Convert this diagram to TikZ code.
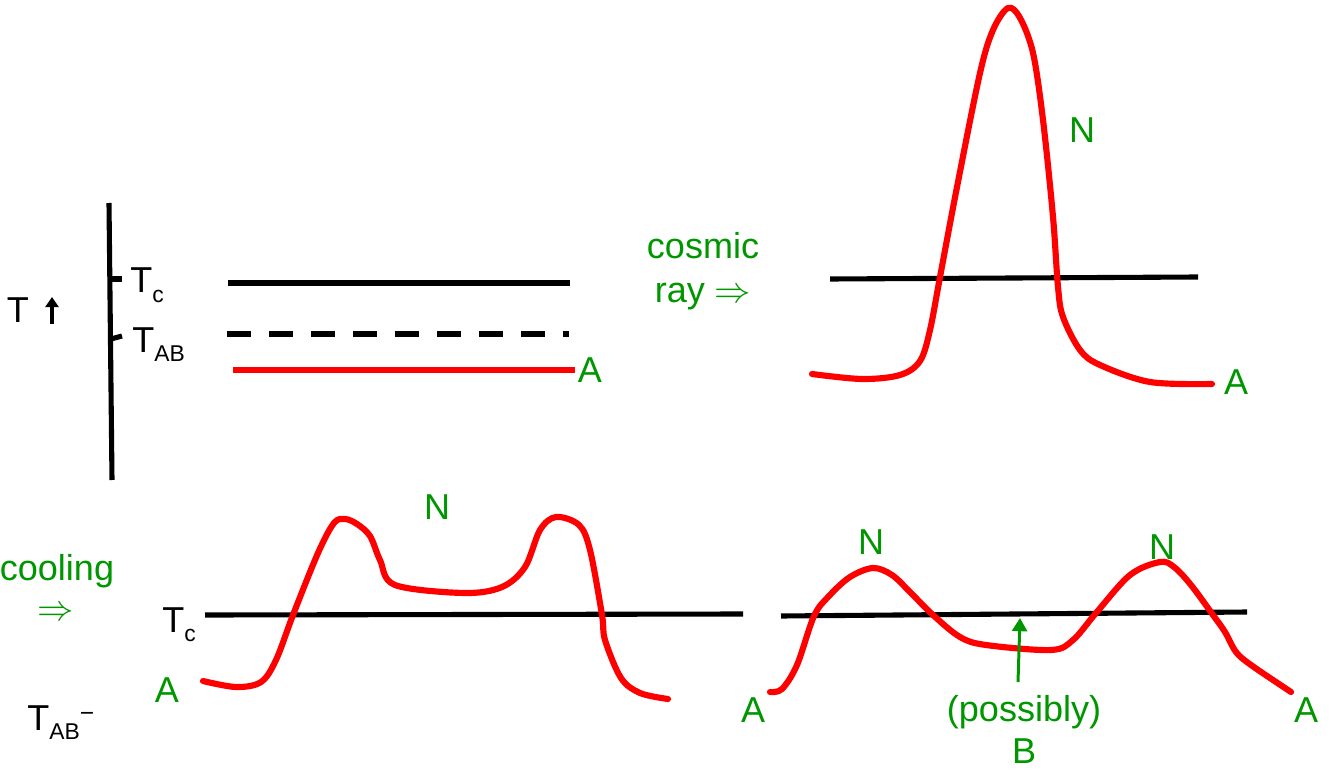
\documentclass[tikz,border=0pt]{standalone}
\usepackage{fontspec}
\setmainfont{Liberation Sans}
\usetikzlibrary{arrows.meta}
\definecolor{lgreen}{RGB}{0,150,0}
\newcommand\lowsub[1]{\raisebox{-5.5pt}{\fontsize{13}{13}\selectfont #1}}
\begin{document}
\begin{tikzpicture}[x=0.02cm,y=-0.02cm,
  blk/.style={line width=2.9pt, black},
  redc/.style={line width=3.5pt, red, line cap=round, line join=round},
  lbl/.style={font=\fontsize{20.5}{24}\selectfont, inner sep=0pt, text=black},
  glbl/.style={lbl, text=lgreen}]
\useasboundingbox (0,0) rectangle (1334,773);

% ---------- top left: temperature axis ----------
\coordinate (axtop) at (109,203);
\coordinate (axbot) at (112,480);
\draw[blk] (axtop) -- (axbot);
\coordinate (tc1) at (110,279); \coordinate (tc2) at (122,279);
\draw[blk] (tc1) -- (tc2);
\coordinate (tab1) at (111,339); \coordinate (tab2) at (122,336);
\draw[blk] (tab1) -- (tab2);

\node[lbl] (T) at (18,310) {T};
\coordinate (up1) at (52,324); \coordinate (up2) at (52,297);
\draw[line width=2.2pt, -{Triangle[length=5.8pt,width=7.5pt]}] (up1) -- (up2);

\node[lbl, anchor=base west] (Tc) at (130,293) {T\lowsub{c}};
\node[lbl, anchor=base west] (Tab) at (132,352) {T\lowsub{AB}};

\coordinate (l1a) at (228,283); \coordinate (l1b) at (570,283);
\draw[blk] (l1a) -- (l1b);
\coordinate (l2a) at (227,334); \coordinate (l2b) at (569,334);
\draw[blk, dash pattern=on 0.48cm off 0.36cm] (l2a) -- (l2b);
\coordinate (l3a) at (233,370); \coordinate (l3b) at (575,370);
\draw[red, line width=2.9pt] (l3a) -- (l3b);
\node[glbl] (A1) at (590,370) {A};

% ---------- cosmic ray ----------
\node[glbl, anchor=base] (cr1) at (703,259) {cosmic};
\node[glbl, anchor=base] (cr2) at (703,302) {ray $\Rightarrow$};

% ---------- top right ----------
\coordinate (tr1) at (830,279); \coordinate (tr2) at (1198,277);
\draw[blk] (tr1) -- (tr2);
\draw[redc] plot[smooth, tension=0.55] coordinates {
  (812,374) (862,379) (900,375) (920,361) (930,330) (940,277) (957,187)
  (980,73) (993,30) (1008,8) (1020,18) (1033,53) (1043,120) (1053,217)
  (1058,287) (1063,317) (1080,350) (1100,365) (1150,382) (1212,384)};
\node[glbl] (N1) at (1082,130) {N};
\node[glbl] (A2) at (1236,382) {A};

% ---------- bottom left ----------
\node[glbl, anchor=base] (cool) at (57,580) {cooling};
\node[glbl] (arr) at (56,614) {$\Rightarrow$};
\node[lbl, anchor=base west] (Tc2) at (162,632) {T\lowsub{c}};
\node[lbl, anchor=base west] (Tab2) at (27,730) {T\lowsub{AB}\raisebox{5pt}{\fontsize{14}{14}\selectfont −}};

\coordinate (bl1) at (205,615); \coordinate (bl2) at (743,614);
\draw[blk] (bl1) -- (bl2);
\draw[redc] plot[smooth, tension=0.55] coordinates {
  (203,681) (236,687) (261,682) (276,660) (293,615) (318,553) (334,523)
  (345,519) (357,524) (370,536) (380,560) (395,585) (464,593) (502,587)
  (525,567) (540,530) (556,517) (579,525) (590,550) (602,615) (605,640)
  (621,678) (640,693) (668,699)};
\node[glbl] (A3) at (167,690) {A};
\node[glbl] (N2) at (437,507) {N};

% ---------- bottom right ----------
\coordinate (br1) at (781,616); \coordinate (br2) at (1247,612);
\draw[blk] (br1) -- (br2);
\draw[redc] plot[smooth, tension=0.55] coordinates {
  (770,692) (782,689) (797,665) (814,616) (829,596) (850,577) (873,568)
  (892,575) (910,592) (933,615) (960,637) (986,645) (1051,650) (1073,640)
  (1096,613) (1130,575) (1160,562) (1174,567) (1191,585) (1213,615)
  (1225,632) (1236,652) (1251,665) (1291,692)};
\node[glbl] (N3) at (871,542) {N};
\node[glbl] (N4) at (1162,547) {N};
\node[glbl] (A4) at (753,710) {A};
\node[glbl] (A5) at (1306,710) {A};
\node[glbl] (poss) at (1024,712) {(possibly)};
\node[glbl] (B) at (1024,751) {B};
\coordinate (bstart) at (1018,682);
\coordinate (btip) at (1020,618);
\draw[lgreen, line width=1.7pt, -{Triangle[length=7.5pt,width=8.5pt]}] (bstart) -- (btip);
\end{tikzpicture}
\end{document}
